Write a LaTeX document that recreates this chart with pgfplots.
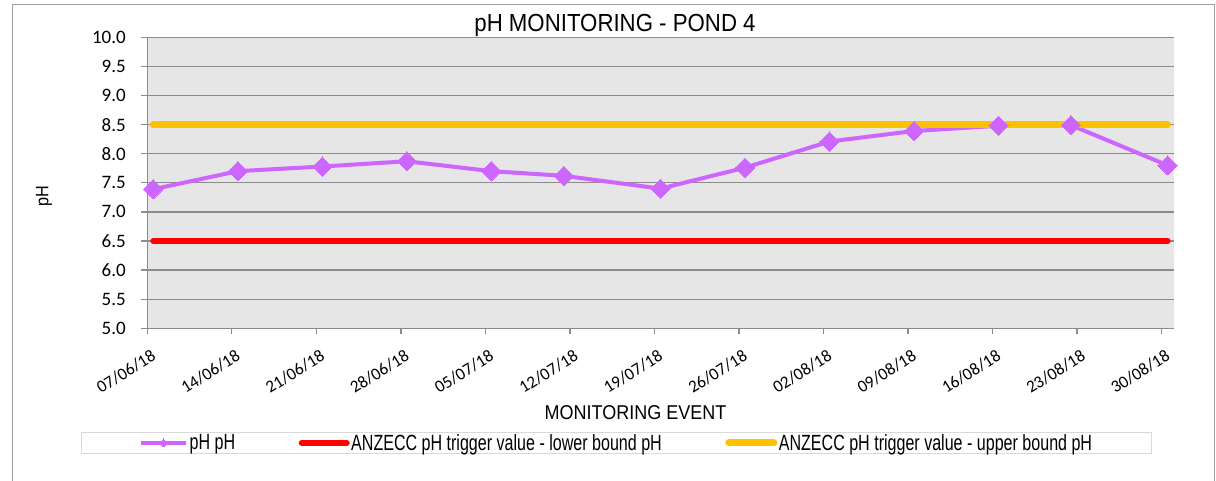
\documentclass[border=0pt]{standalone}
\usepackage{fontspec}
\usepackage{pgfplots}
\pgfplotsset{compat=1.18}
\setmainfont{Liberation Sans}
\newfontfamily\titlefont[FakeStretch=0.9]{Liberation Sans}
\newfontfamily\legfont[FakeStretch=0.73]{Liberation Sans}
\newfontfamily\tickfont{Carlito}
\definecolor{phpurple}{HTML}{CC66FF}
\definecolor{upper}{HTML}{FFC000}
\definecolor{plotbg}{HTML}{E6E6E6}
\definecolor{gridc}{HTML}{8C8C8C}
\definecolor{framec}{HTML}{A0A0A0}
\definecolor{legframe}{HTML}{D9D9D9}
\pgfplotstableread{
day ph
0.5 7.39
7.5 7.70
14.5 7.78
21.5 7.87
28.5 7.70
34.5 7.62
42.5 7.40
49.5 7.76
56.5 8.21
63.5 8.39
70.5 8.48
76.5 8.49
84.5 7.80
}\phdata
\pgfplotstableread{
day lower upper
0.5 6.5 8.5
7.5 6.5 8.5
14.5 6.5 8.5
21.5 6.5 8.5
28.5 6.5 8.5
34.5 6.5 8.5
42.5 6.5 8.5
49.5 6.5 8.5
56.5 6.5 8.5
63.5 6.5 8.5
70.5 6.5 8.5
76.5 6.5 8.5
84.5 6.5 8.5
}\trigger
\begin{document}
\begin{tikzpicture}
\useasboundingbox (0pt,0pt) rectangle (1216pt,480pt);
\draw[framec, line width=1.2pt] (12.3pt,-5pt) rectangle (1214.3pt,475.3pt);
\begin{axis}[
  at={(147.3pt,151.7pt)}, anchor=south west,
  scale only axis, width=1026.4pt, height=291pt,
  xmin=0, xmax=85, ymin=5, ymax=10,
  axis x line*=bottom, axis y line*=left,
  axis line style={gridc, line width=1.3pt},
  axis background/.style={fill=plotbg},
  xtick={0,7,14,21,28,35,42,49,56,63,70,77,84},
  xticklabels={07/06/18,14/06/18,21/06/18,28/06/18,05/07/18,12/07/18,19/07/18,26/07/18,02/08/18,09/08/18,16/08/18,23/08/18,30/08/18},
  ytick={5,5.5,6,6.5,7,7.5,8,8.5,9,9.5,10},
  yticklabels={5.0,5.5,6.0,6.5,7.0,7.5,8.0,8.5,9.0,9.5,10.0},
  ymajorgrids, grid style={gridc, line width=1.3pt},
  tick align=outside, major tick length=6pt,
  tick style={gridc, line width=1.3pt},
  yticklabel style={font=\fontsize{19}{22}\selectfont\tickfont, xshift=-12pt},
  xticklabel style={font=\fontsize{17.2}{20}\selectfont\tickfont, rotate=32, anchor=north east, inner sep=0pt, xshift=-5pt, yshift=-14pt},
  clip=false,
  legend columns=3,
  legend style={at={(0.4571,-0.394)}, anchor=center, draw=legframe, line width=1pt, fill=white,
    font=\fontsize{22}{24}\selectfont\legfont, inner xsep=58pt, inner ysep=0pt,
    nodes={inner xsep=1.5pt, inner ysep=2pt},
    /tikz/every even column/.append style={column sep=62pt}},
  legend image code/.code={\draw[#1, line cap=round] (0pt,0pt) -- (45pt,0pt);},
]
\addplot[phpurple, line width=4pt, mark=square*, mark size=6.8pt, mark options={rotate=45, line width=0pt},
  legend image code/.code={\draw[mark repeat=2, mark phase=2, ##1, mark size=2.8pt] plot coordinates {(0pt,0pt) (22.5pt,0pt) (45pt,0pt)};}]
  table[x=day, y=ph] {\phdata};
\addlegendentry{pH pH}
\addplot[red, line width=6pt, line cap=round] table[x=day, y=lower] {\trigger};
\addlegendentry{ANZECC pH trigger value - lower bound pH}
\addplot[upper, line width=7pt, line cap=round] table[x=day, y=upper] {\trigger};
\addlegendentry{ANZECC pH trigger value - upper bound pH}
\end{axis}
\node[anchor=base, font=\fontsize{24.7}{28}\selectfont\titlefont] at (615pt,448pt) {pH MONITORING - POND 4};
\node[anchor=base, font=\fontsize{20}{24}\selectfont\titlefont] at (635.5pt,60.7pt) {MONITORING EVENT};
\node[rotate=90, font=\fontsize{18}{22}\selectfont\titlefont] at (44pt,284pt) {pH};
\end{tikzpicture}
\end{document}
